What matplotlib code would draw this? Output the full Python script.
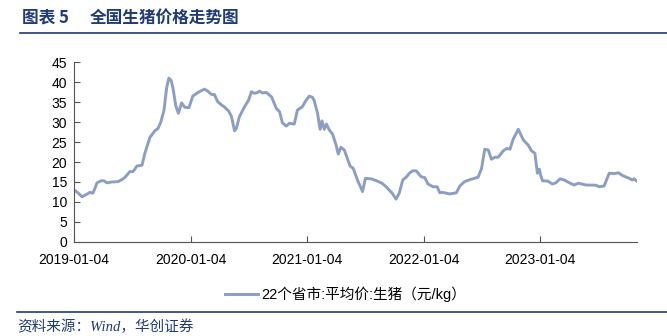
import matplotlib
matplotlib.use("Agg")
import matplotlib.pyplot as plt
import matplotlib.dates as mdates
from matplotlib.lines import Line2D
import pandas as pd

plt.rcParams['font.family'] = ['Liberation Sans', 'Noto Sans CJK SC', 'DejaVu Sans']

title_label = "图表 5"
title = "全国生猪价格走势图"
series_name = "22个省市:平均价:生猪（元/kg）"
source = "资料来源：Wind，华创证券"

dates = [
    "2019-01-04", "2019-01-16", "2019-01-29", "2019-02-10", "2019-02-23", "2019-03-04",
    "2019-03-11", "2019-03-17", "2019-03-30", "2019-04-08", "2019-04-17", "2019-05-03",
    "2019-05-22", "2019-06-03", "2019-06-13", "2019-06-28", "2019-07-08", "2019-07-20",
    "2019-08-05", "2019-08-14", "2019-08-30", "2019-09-14", "2019-09-24", "2019-10-03",
    "2019-10-13", "2019-10-21", "2019-10-28", "2019-11-04", "2019-11-10", "2019-11-19",
    "2019-11-27", "2019-12-07", "2019-12-17", "2019-12-30",
    "2020-01-11", "2020-01-29", "2020-02-17", "2020-02-26", "2020-03-10", "2020-03-19",
    "2020-03-29", "2020-04-10", "2020-04-19", "2020-05-02", "2020-05-11", "2020-05-21",
    "2020-05-27", "2020-06-05", "2020-06-21", "2020-07-04", "2020-07-13", "2020-07-22",
    "2020-08-01", "2020-08-07", "2020-08-16", "2020-08-29", "2020-09-14", "2020-09-29",
    "2020-10-09", "2020-10-18", "2020-10-30", "2020-11-09", "2020-11-24", "2020-12-04",
    "2020-12-19", "2020-12-29",
    "2021-01-10", "2021-01-20", "2021-01-26", "2021-02-05", "2021-02-13", "2021-02-19",
    "2021-02-26", "2021-03-05", "2021-03-14", "2021-03-24", "2021-04-04", "2021-04-11",
    "2021-04-19", "2021-04-30", "2021-05-09", "2021-05-18", "2021-05-28", "2021-06-10",
    "2021-06-26", "2021-07-05", "2021-07-23", "2021-08-09", "2021-08-26", "2021-09-08",
    "2021-09-27", "2021-10-09", "2021-10-19", "2021-10-30", "2021-11-11", "2021-11-20",
    "2021-11-30", "2021-12-11", "2021-12-27",
    "2022-01-07", "2022-01-17", "2022-02-02", "2022-02-15", "2022-02-23", "2022-03-05",
    "2022-03-26", "2022-04-16", "2022-04-27", "2022-05-12", "2022-06-02", "2022-06-23",
    "2022-07-04", "2022-07-14", "2022-07-25", "2022-08-04", "2022-08-15", "2022-08-25",
    "2022-09-10", "2022-09-21", "2022-10-01", "2022-10-11", "2022-10-27", "2022-11-12",
    "2022-11-27", "2022-12-08", "2022-12-18", "2022-12-26", "2023-01-01",
    "2023-01-05", "2023-01-11", "2023-01-27", "2023-02-11", "2023-02-22", "2023-03-07",
    "2023-03-20", "2023-04-05", "2023-04-20", "2023-05-04", "2023-05-27", "2023-06-27",
    "2023-07-08", "2023-07-23", "2023-08-08", "2023-08-24", "2023-09-06", "2023-09-19",
    "2023-10-10", "2023-10-20", "2023-10-25", "2023-11-02",
]
prices = [
    13.0, 12.3, 11.3, 11.8, 12.4, 12.2,
    13.5, 14.8, 15.3, 15.3, 14.8, 15.0,
    15.1, 15.6, 16.2, 17.6, 17.6, 19.0,
    19.2, 22.2, 26.2, 27.8, 28.4, 30.0,
    33.0, 38.5, 41.0, 40.5, 38.5, 34.0,
    32.2, 34.8, 33.7, 33.6,
    36.5, 37.5, 38.25, 37.8, 36.9, 36.9,
    35.1, 34.3, 33.8, 32.8, 31.5, 27.8,
    28.5, 31.3, 33.8, 35.5, 37.6, 37.2,
    37.4, 37.75, 37.3, 37.4, 36.3, 33.4,
    32.6, 29.8, 29.0, 29.7, 29.5, 33.0,
    33.8, 35.2,
    36.5, 36.2, 35.3, 32.2, 28.2, 30.3,
    28.2, 29.5, 28.0, 27.0, 24.25, 22.0,
    23.7, 23.0, 21.0, 19.0, 18.4, 15.5,
    12.6, 15.9, 15.8, 15.3, 14.7, 13.8,
    12.2, 10.7, 12.2, 15.5, 16.3, 17.2,
    17.8, 17.8, 16.3,
    16.1, 14.5, 13.8, 13.8, 12.3, 12.4,
    12.0, 12.3, 14.0, 15.1, 15.7, 16.2,
    18.4, 23.2, 23.0, 20.7, 21.2, 21.2,
    22.8, 23.4, 23.2, 25.7, 28.2, 25.5,
    24.25, 22.75, 22.2, 17.2, 18.2,
    16.75, 15.3, 15.25, 14.5, 14.8, 15.8,
    15.5, 14.8, 14.25, 14.7, 14.25, 14.2,
    13.8, 14.0, 17.2, 17.1, 17.3, 16.6,
    15.9, 15.5, 15.8, 15.25,
]
x_ticks = ["2019-01-04", "2020-01-04", "2021-01-04", "2022-01-04", "2023-01-04"]
y_ticks = [0, 5, 10, 15, 20, 25, 30, 35, 40, 45]

navy = "#1F3C77"
line_color = "#8C9DC6"

fig = plt.figure(figsize=(6.67, 3.36), dpi=100)
ax = fig.add_axes([0.111, 0.280, 0.844, 0.535])

d = pd.to_datetime(dates)
ax.plot(d, prices, color=line_color, lw=2.1, solid_joinstyle='round')

ax.set_xlim(pd.Timestamp("2019-01-04"), pd.Timestamp("2023-11-03"))
ax.set_ylim(0, 45)
ax.set_yticks(y_ticks)
ax.set_xticks(pd.to_datetime(x_ticks))
ax.xaxis.set_major_formatter(mdates.DateFormatter("%Y-%m-%d"))
ax.tick_params(axis='both', direction='in', length=4, width=0.8, color='#555555',
               labelsize=10, labelcolor='black')
ax.tick_params(axis='x', pad=8)
ax.tick_params(axis='y', pad=5)
for s in ['top', 'right']:
    ax.spines[s].set_visible(False)
for s in ['left', 'bottom']:
    ax.spines[s].set_color('#555555')
    ax.spines[s].set_linewidth(0.8)

# legend
handle = Line2D([], [], color=line_color, lw=2.1)
fig.legend([handle], [series_name], loc='center', bbox_to_anchor=(0.518, 0.124),
           frameon=False, handlelength=2.3, handletextpad=0.2,
           prop={'family': ['Liberation Sans', 'Noto Sans CJK SC'], 'size': 10.5})

# title and rules
fig.text(0.033, 0.948, title_label, fontsize=12, fontweight='bold', color=navy,
         family=['Noto Sans CJK SC'], va='center', ha='left')
fig.text(0.135, 0.948, title, fontsize=12, fontweight='bold', color=navy,
         family=['Noto Sans CJK SC'], va='center', ha='left')
fig.add_artist(Line2D([0.030, 1.0], [0.902, 0.902], color=navy, lw=1.2))
fig.add_artist(Line2D([0.025, 1.0], [0.072, 0.072], color=navy, lw=1.2))
fig.text(0.026, 0.028, source, fontsize=10.5, color=navy, style='italic',
         family=['Liberation Serif', 'Noto Sans CJK SC'], va='center', ha='left')

fig.savefig("out.png", dpi=100)
